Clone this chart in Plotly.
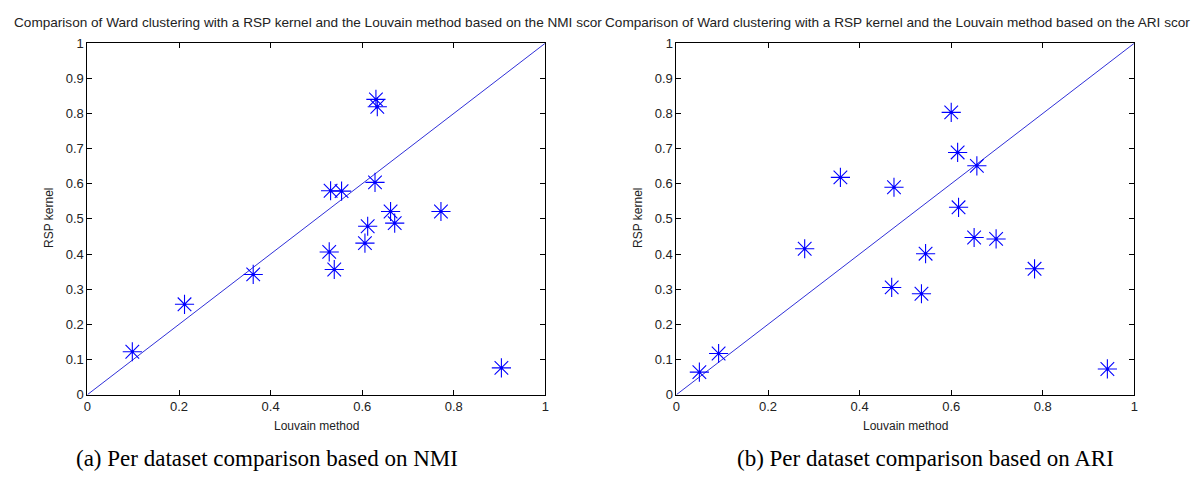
import plotly.graph_objects as go

# Data
nmi_louvain = [0.630, 0.633, 0.628, 0.531, 0.555, 0.662, 0.772, 0.671, 0.612, 0.606,
               0.528, 0.539, 0.362, 0.212, 0.098, 0.904]
nmi_rsp = [0.840, 0.819, 0.604, 0.580, 0.579, 0.521, 0.521, 0.488, 0.479, 0.431,
           0.406, 0.356, 0.342, 0.257, 0.122, 0.076]
ari_louvain = [0.600, 0.614, 0.656, 0.358, 0.475, 0.616, 0.650, 0.698, 0.280, 0.544,
               0.782, 0.470, 0.535, 0.092, 0.050, 0.941]
ari_rsp = [0.803, 0.689, 0.651, 0.618, 0.590, 0.533, 0.447, 0.443, 0.415, 0.401,
           0.358, 0.305, 0.287, 0.117, 0.064, 0.073]
diag = [0, 1]
x_ticks = [0, 0.2, 0.4, 0.6, 0.8, 1]
x_tick_text = ["0", "0.2", "0.4", "0.6", "0.8", "1"]
y_ticks = [0, 0.1, 0.2, 0.3, 0.4, 0.5, 0.6, 0.7, 0.8, 0.9, 1]
y_tick_text = ["0", "0.1", "0.2", "0.3", "0.4", "0.5", "0.6", "0.7", "0.8", "0.9", "1"]
titles = ["Comparison of Ward clustering with a RSP kernel and the Louvain method based on the NMI scor",
          "Comparison of Ward clustering with a RSP kernel and the Louvain method based on the ARI scor"]
captions = ["(a) Per dataset comparison based on NMI", "(b) Per dataset comparison based on ARI"]
xlabel = "Louvain method"
ylabel = "RSP kernel"

W, H = 1196, 485
fig = go.Figure()

BLUE = "#0000ff"
panels = [(nmi_louvain, nmi_rsp, "x", "y"), (ari_louvain, ari_rsp, "x2", "y2")]
for xs, ys, xa, ya in panels:
    fig.add_trace(go.Scatter(x=diag, y=diag, mode="lines", xaxis=xa, yaxis=ya,
                             line=dict(color="#3030d8", width=1), hoverinfo="skip"))
    fig.add_trace(go.Scatter(x=xs, y=ys, mode="markers", xaxis=xa, yaxis=ya,
                             marker=dict(symbol="asterisk-open", size=16, color=BLUE,
                                         line=dict(color=BLUE, width=1.1))))
    fig.add_trace(go.Scatter(x=xs, y=ys, mode="markers", xaxis=xa, yaxis=ya,
                             marker=dict(symbol="circle", size=3, color=BLUE), hoverinfo="skip"))

# pixel geometry
L1, R1 = 84, 545
L2, R2 = 677, 1138
T, B = 37.3, 400
ydom = [1 - B / H, 1 - T / H]

axis_common = dict(range=[0, 1], showgrid=False, zeroline=False, showline=True,
                   linecolor="#000000", linewidth=1, mirror="ticks", ticks="inside",
                   ticklen=5, tickcolor="#000000",
                   tickfont=dict(family="Liberation Sans, Arial", size=13, color="#222222"))

fig.update_layout(
    width=W, height=H, margin=dict(l=0, r=0, t=0, b=0),
    paper_bgcolor="white", plot_bgcolor="white", showlegend=False,
    xaxis=dict(domain=[L1 / W, R1 / W], anchor="y", tickvals=x_ticks, ticktext=x_tick_text, **axis_common),
    yaxis=dict(domain=ydom, anchor="x", tickvals=y_ticks, ticktext=y_tick_text, **axis_common),
    xaxis2=dict(domain=[L2 / W, R2 / W], anchor="y2", tickvals=x_ticks, ticktext=x_tick_text, **axis_common),
    yaxis2=dict(domain=ydom, anchor="x2", tickvals=y_ticks, ticktext=y_tick_text, **axis_common),
)

ann = []
tfont = dict(family="Liberation Sans, Arial", size=13.6, color="#222222")
ann.append(dict(text=titles[0], x=8 / W, y=1 - 16 / H, xref="paper", yref="paper",
                xanchor="left", yanchor="middle", showarrow=False, font=tfont))
ann.append(dict(text=titles[1], x=603 / W, y=1 - 16 / H, xref="paper", yref="paper",
                xanchor="left", yanchor="middle", showarrow=False, font=tfont))
for cx in [(L1 + R1) / 2, (L2 + R2) / 2]:
    ann.append(dict(text=xlabel, x=cx / W, y=1 - 432 / H, xref="paper", yref="paper",
                    xanchor="center", yanchor="middle", showarrow=False,
                    font=dict(family="Liberation Sans Narrow, Liberation Sans, Arial", size=12, color="#222222")))
for lx in [46, 639]:
    ann.append(dict(text=ylabel, x=lx / W, y=1 - 218 / H, xref="paper", yref="paper",
                    xanchor="center", yanchor="middle", showarrow=False, textangle=-90,
                    font=dict(family="Liberation Sans Narrow, Liberation Sans, Arial", size=12, color="#222222")))
for cap, cx in zip(captions, [265, 928]):
    ann.append(dict(text=cap, x=cx / W, y=1 - 466 / H, xref="paper", yref="paper",
                    xanchor="center", yanchor="middle", showarrow=False,
                    font=dict(family="Liberation Serif, DejaVu Serif", size=23, color="#000000")))
fig.update_layout(annotations=ann)

fig.write_html("out.html")
